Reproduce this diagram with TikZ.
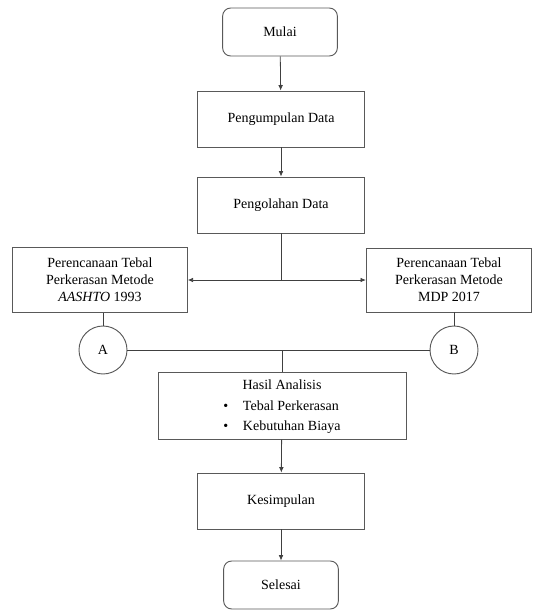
\documentclass[tikz,border=0pt]{standalone}
\usepackage{fontspec}
\setmainfont{Liberation Serif}
\usetikzlibrary{arrows.meta}

\tikzset{
  box/.style={draw=black!65, line width=0.7pt, minimum width=#1, minimum height=42pt, inner sep=2pt, align=center, font=\fontsize{10.5}{12.75}\selectfont},
  box/.default=125pt,
  terminal/.style={box=86pt, rounded corners=6pt, minimum height=36pt},
  joint/.style={draw=black!65, line width=0.7pt, circle, minimum size=36pt, inner sep=0pt, font=\fontsize{10.5}{12}\selectfont},
  flow/.style={line width=0.6pt, draw=black!75, -{Latex[length=4pt,width=3.5pt]}},
  link/.style={line width=0.6pt, draw=black!75}
}

\begin{document}
\begin{tikzpicture}[x=0.75pt, y=-0.75pt]
\useasboundingbox (0,0) rectangle (532,610);

\node[terminal] (mulai) at (280,32) {Mulai};
\node[box] (kumpul) at (281,119) {Pengumpulan Data};
\node[box] (olah) at (281,205) {Pengolahan Data};
\node[box=131pt, minimum height=49pt] (aashto) at (100,280) {Perencanaan Tebal\\Perkerasan Metode\\\textit{AASHTO} 1993};
\node[box=124pt, minimum height=48pt] (mdp) at (449,280) {Perencanaan Tebal\\Perkerasan Metode\\MDP 2017};
\node[joint] (a) at (103,350) {A};
\node[joint] (b) at (454,350) {B};
\node[box=186pt, minimum height=49pt] (hasil) at (282,406) {\renewcommand\arraystretch{1.2}\begin{tabular}{@{}c@{\hspace{11pt}}l@{}}\multicolumn{2}{c}{Hasil Analisis}\\ \textbullet & Tebal Perkerasan\\ \textbullet & Kebutuhan Biaya\end{tabular}};
\node[box] (simpul) at (281,501) {Kesimpulan};
\node[terminal] (selesai) at (281,585) {Selesai};

\coordinate (cabang) at (olah.south |- aashto.east);
\coordinate (gabung) at (hasil.north |- a.east);

\draw[flow] (mulai) -- (kumpul);
\draw[flow] (kumpul) -- (olah);
\draw[link] (olah) -- (cabang);
\draw[flow] (cabang) -- (aashto.east);
\draw[flow] (cabang) -- (mdp.west);
\draw[link] (aashto.south -| a) -- (a);
\draw[link] (mdp.south -| b) -- (b);
\draw[link] (a) -- (b);
\draw[link] (gabung) -- (hasil);
\draw[flow] (hasil) -- (simpul);
\draw[flow] (simpul) -- (selesai);
\end{tikzpicture}
\end{document}
